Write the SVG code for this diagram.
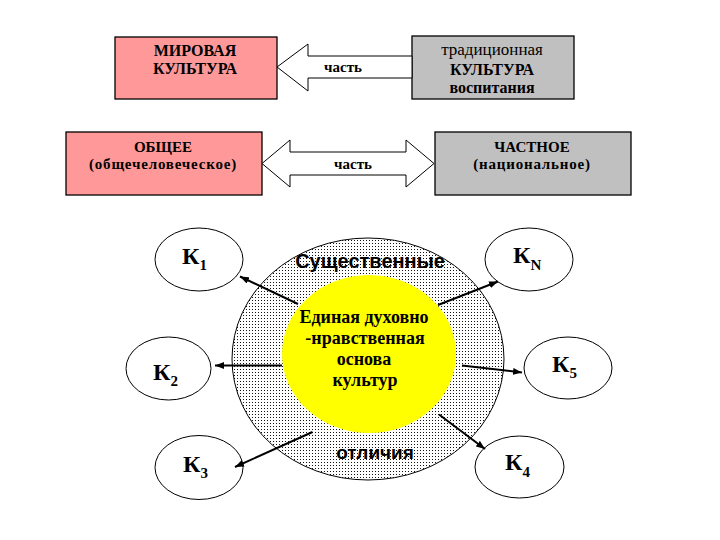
<svg xmlns="http://www.w3.org/2000/svg" width="720" height="540" viewBox="0 0 720 540">
<defs>
<pattern id="dots" width="3" height="3" patternUnits="userSpaceOnUse">
<rect width="3" height="3" fill="#ffffff"/>
<rect width="1" height="1" fill="#111111"/>
</pattern>
<marker id="ah" markerWidth="9" markerHeight="7" refX="9" refY="3.5" orient="auto" markerUnits="userSpaceOnUse">
<path d="M0,0 L9,3.5 L0,7 Z" fill="#000"/>
</marker>
</defs>
<style>
.box{stroke:#000;stroke-width:1.3}
.pink{fill:#FF9999}
.gray{fill:#C0C0C0}
.serif{font-family:"Liberation Serif","Times New Roman",serif;font-weight:bold;fill:#000;text-anchor:middle}
.sans{font-family:"Liberation Sans",Arial,sans-serif;font-weight:bold;fill:#000;text-anchor:middle}
.k{font-family:"Liberation Serif","Times New Roman",serif;font-weight:bold;font-size:24px;fill:#000}
.sub{font-size:15px}
.oval{fill:#fff;stroke:#000;stroke-width:1}
.blk{fill:#fff;stroke:#000;stroke-width:1}
.con{stroke:#000;stroke-width:2;fill:none}
</style>
<rect width="720" height="540" fill="#fff"/>

<g id="mirovaya">
<rect class="box pink" x="115" y="37" width="162" height="62"/>
<text class="serif" x="195" y="56" font-size="16">МИРОВАЯ</text>
<text class="serif" x="195" y="74" font-size="16">КУЛЬТУРА</text>
</g>
<g id="tradicionnaya">
<rect class="box gray" x="412" y="36" width="162" height="63"/>
<text class="serif" x="492" y="55" font-size="17" style="font-weight:normal">традиционная</text>
<text class="serif" x="492" y="75" font-size="16">КУЛЬТУРА</text>
<text class="serif" x="492" y="93" font-size="16">воспитания</text>
</g>
<g id="obshchee">
<rect class="box pink" x="66" y="132" width="196" height="63"/>
<text class="serif" x="163" y="152" font-size="15">ОБЩЕЕ</text>
<text class="serif" x="163" y="169" font-size="15" letter-spacing="0.8">(общечеловеческое)</text>
</g>
<g id="chastnoe">
<rect class="box gray" x="435" y="132" width="196" height="63"/>
<text class="serif" x="532" y="152" font-size="15">ЧАСТНОЕ</text>
<text class="serif" x="532" y="169" font-size="15" letter-spacing="0.8">(национальное)</text>
</g>

<g id="outer-ring">
<ellipse cx="368" cy="359" rx="136" ry="121" fill="url(#dots)" stroke="#000" stroke-width="1"/>
<text class="sans" x="370" y="268" font-size="20">Существенные</text>
<text class="sans" x="375" y="459" font-size="19">отличия</text>
</g>
<g id="core">
<ellipse cx="369" cy="354" rx="87" ry="79" fill="#FFFF00"/>
<text class="serif" x="364" y="323" font-size="18">Единая духовно</text>
<text class="serif" x="365" y="344" font-size="18">-нравственная</text>
<text class="serif" x="364" y="365" font-size="18">основа</text>
<text class="serif" x="365" y="386" font-size="18">культур</text>
</g>

<g id="k1"><ellipse class="oval" cx="199" cy="259.5" rx="44" ry="31.5"/><text class="k" x="182" y="264">К<tspan class="sub" dy="6">1</tspan></text></g>
<g id="kn"><ellipse class="oval" cx="529" cy="259.5" rx="44" ry="31.5"/><text class="k" x="513" y="263">К<tspan class="sub" dy="7">N</tspan></text></g>
<g id="k2"><ellipse class="oval" cx="168.5" cy="368.5" rx="42.5" ry="31.5"/><text class="k" x="153" y="380">К<tspan class="sub" dy="6">2</tspan></text></g>
<g id="k5"><ellipse class="oval" cx="568" cy="368" rx="44" ry="31"/><text class="k" x="552" y="372">К<tspan class="sub" dy="6">5</tspan></text></g>
<g id="k3"><ellipse class="oval" cx="199" cy="467.5" rx="44" ry="32"/><text class="k" x="183" y="472">К<tspan class="sub" dy="6">3</tspan></text></g>
<g id="k4"><ellipse class="oval" cx="519.5" cy="467" rx="44.5" ry="31"/><text class="k" x="505" y="470">К<tspan class="sub" dy="7">4</tspan></text></g>

<g id="connectors">
<path class="blk" d="M277,67 L308,44 L308,56 L412,56 L412,78 L308,78 L308,91 Z"/>
<text class="serif" x="343" y="72" font-size="15">часть</text>
<path class="blk" d="M262,163.5 L290,140 L290,152 L406,152 L406,140 L434,163.5 L406,187 L406,175 L290,175 L290,187 Z"/>
<text class="serif" x="353" y="169" font-size="15">часть</text>
<line class="con" x1="298" y1="304" x2="240" y2="276.5" marker-end="url(#ah)"/>
<line class="con" x1="438" y1="305" x2="498" y2="281.5" marker-end="url(#ah)"/>
<line class="con" x1="282" y1="365.5" x2="215" y2="365.5" marker-end="url(#ah)"/>
<line class="con" x1="462" y1="365.5" x2="522" y2="372.5" stroke-width="1.3" marker-end="url(#ah)"/>
<line class="con" x1="312.5" y1="432" x2="235" y2="467" marker-end="url(#ah)"/>
<line class="con" x1="439" y1="414.5" x2="485" y2="449" marker-end="url(#ah)"/>
</g>
</svg>
